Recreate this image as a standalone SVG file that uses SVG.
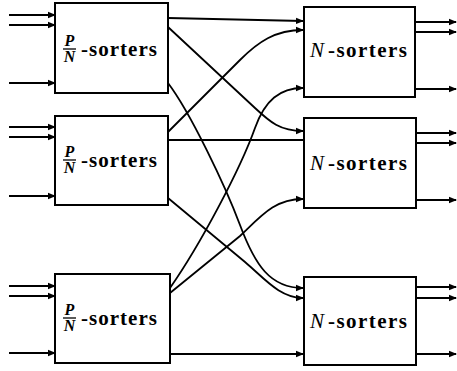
<svg xmlns="http://www.w3.org/2000/svg" width="457" height="371" viewBox="0 0 457 371">
<style>
.box{fill:#fff;stroke:#000;stroke-width:2}
.w{fill:none;stroke:#000;stroke-width:1.8}
.a{marker-end:url(#ah)}
.fr{font-family:"Liberation Serif",serif;font-style:italic;font-weight:bold;font-size:16px}
.bd{font-family:"Liberation Serif",serif;font-weight:bold;font-size:21px}
.it{font-family:"Liberation Serif",serif;font-style:italic;font-size:21px}
</style>
<defs>
<marker id="ah" viewBox="0 0 8 8" refX="7" refY="4" markerWidth="8" markerHeight="8" markerUnits="userSpaceOnUse" orient="auto">
<path d="M0,0.8 L8,4 L0,7.2 Z" fill="#000"/>
</marker>
</defs>
<rect width="457" height="371" fill="#fff"/>
<g id="connectors">
<path class="w a" d="M9,15 H55"/>
<path class="w a" d="M9,25 H55"/>
<path class="w a" d="M9,83 H55"/>
<path class="w a" d="M9,127 H55"/>
<path class="w a" d="M9,137 H55"/>
<path class="w a" d="M9,196 H55"/>
<path class="w a" d="M9,286 H55"/>
<path class="w a" d="M9,296 H55"/>
<path class="w a" d="M9,353 H55"/>
<path class="w a" d="M168,18 L303,21"/>
<path class="w a" d="M168,27 L255,108 C270,122 280,131 303,131"/>
<path class="w a" d="M168,83 C190,112 225,185 240,225 C255,265 270,288 303,288"/>
<path class="w a" d="M168,132 L240,60 C258,42 275,30 303,30"/>
<path class="w" d="M168,140 L304,140"/>
<path class="w a" d="M168,198 L245,262 C265,279 280,298 303,298"/>
<path class="w a" d="M170,288 C200,245 240,170 255,128 C265,100 280,88 303,88"/>
<path class="w a" d="M170,293 L240,236 C262,215 275,199 303,199"/>
<path class="w a" d="M170,354 L303,354"/>
<path class="w a" d="M415,22 H456"/>
<path class="w a" d="M415,32 H456"/>
<path class="w a" d="M415,89 H456"/>
<path class="w a" d="M416,133 H456"/>
<path class="w a" d="M416,143 H456"/>
<path class="w a" d="M416,200 H456"/>
<path class="w a" d="M416,287 H456"/>
<path class="w a" d="M416,298 H456"/>
<path class="w a" d="M416,354 H456"/>
</g>
<g id="L1">
<rect class="box" x="55" y="3" width="113" height="90"/>
<text class="fr" x="69.5" y="46" text-anchor="middle">P</text>
<line x1="63" y1="49" x2="76" y2="49" stroke="#000" stroke-width="1.3"/>
<text class="fr" x="69.5" y="62" text-anchor="middle">N</text>
<text class="bd" x="81" y="56" textLength="76" lengthAdjust="spacing">-sorters</text>
</g>
<g id="L2">
<rect class="box" x="55" y="116" width="113" height="89"/>
<text class="fr" x="69.5" y="157" text-anchor="middle">P</text>
<line x1="63" y1="160" x2="76" y2="160" stroke="#000" stroke-width="1.3"/>
<text class="fr" x="69.5" y="173" text-anchor="middle">N</text>
<text class="bd" x="81" y="167" textLength="76" lengthAdjust="spacing">-sorters</text>
</g>
<g id="L3">
<rect class="box" x="55" y="274" width="115" height="89"/>
<text class="fr" x="69.5" y="315" text-anchor="middle">P</text>
<line x1="63" y1="318" x2="76" y2="318" stroke="#000" stroke-width="1.3"/>
<text class="fr" x="69.5" y="331" text-anchor="middle">N</text>
<text class="bd" x="81" y="325" textLength="76" lengthAdjust="spacing">-sorters</text>
</g>
<g id="R1">
<rect class="box" x="304" y="7" width="111" height="90"/>
<text class="it" x="310" y="57">N</text>
<text class="bd" x="328" y="57" textLength="79" lengthAdjust="spacing">-sorters</text>
</g>
<g id="R2">
<rect class="box" x="304" y="118" width="112" height="90"/>
<text class="it" x="310" y="170">N</text>
<text class="bd" x="328" y="170" textLength="79" lengthAdjust="spacing">-sorters</text>
</g>
<g id="R3">
<rect class="box" x="304" y="277" width="112" height="88"/>
<text class="it" x="310" y="328">N</text>
<text class="bd" x="328" y="328" textLength="79" lengthAdjust="spacing">-sorters</text>
</g>
</svg>
